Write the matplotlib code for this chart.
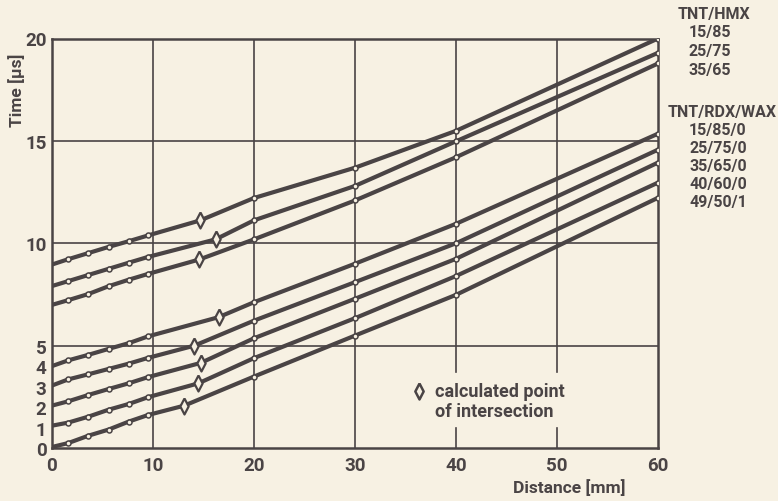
import matplotlib
matplotlib.use('Agg')
import matplotlib.pyplot as plt

# colours of the scanned page
paper = '#f7f1e3'
ink = '#4a4445'

plt.rcParams['font.family'] = ['Roboto', 'DejaVu Sans']
plt.rcParams['font.weight'] = 'bold'

# measuring points (mm) shared by all curves
x_pts = [0, 1.6, 3.6, 5.6, 7.6, 9.5, 20, 30, 40, 60]

# TNT/HMX
hmx_names = ['15/85', '25/75', '35/65']
hmx_y = [
    [8.96, 9.22, 9.52, 9.82, 10.10, 10.38, 12.21, 13.69, 15.49, 20.0],
    [7.91, 8.15, 8.45, 8.75, 9.05, 9.33, 11.12, 12.80, 14.98, 19.3],
    [6.99, 7.22, 7.52, 7.90, 8.22, 8.50, 10.19, 12.09, 14.20, 18.78],
]
hmx_dx = [14.7, 16.2, 14.6]
hmx_dy = [11.12, 10.19, 9.21]

# TNT/RDX/WAX
rdx_names = ['15/85/0', '25/75/0', '35/65/0', '40/60/0', '49/50/1']
rdx_y = [
    [4.00, 4.28, 4.55, 4.84, 5.12, 5.45, 7.12, 9.00, 10.95, 15.35],
    [3.05, 3.35, 3.60, 3.86, 4.12, 4.40, 6.22, 8.10, 10.00, 14.57],
    [2.07, 2.28, 2.59, 2.88, 3.16, 3.46, 5.36, 7.29, 9.24, 13.94],
    [1.09, 1.24, 1.53, 1.87, 2.15, 2.48, 4.39, 6.34, 8.40, 12.96],
    [0.05, 0.24, 0.60, 0.90, 1.29, 1.61, 3.49, 5.49, 7.48, 12.22],
]
rdx_dx = [16.5, 14.1, 14.75, 14.5, 13.1]
rdx_dy = [6.39, 5.00, 4.16, 3.16, 2.07]

y_ticks = [0, 1, 2, 3, 4, 5, 10, 15, 20]
x_ticks = [0, 10, 20, 30, 40, 50, 60]

# narrow diamond like the hand-drawn ones
diamond = [(0, 1), (0.52, 0), (0, -1), (-0.52, 0), (0, 1)]

fig = plt.figure(figsize=(7.78, 5.02), dpi=100, facecolor=paper)
ax = fig.add_axes([52 / 778, 1 - 449 / 502, 606 / 778, 409.5 / 502])
ax.set_facecolor(paper)
ax.set_xlim(0, 60)
ax.set_ylim(0, 20)

# grid, with the gap behind the note text
for g in [5, 10, 15]:
    ax.plot([0, 60], [g, g], color=ink, lw=1.2, zorder=1)
for g in [10, 20, 30]:
    ax.plot([g, g], [0, 20], color=ink, lw=1.2, zorder=1)
for g in [40, 50]:
    ax.plot([g, g], [3.7, 20], color=ink, lw=1.2, zorder=1)
    ax.plot([g, g], [0, 1.0], color=ink, lw=1.2, zorder=1)


def draw_curve(ys, dx, dy):
    xs = x_pts[:6] + [dx] + x_pts[6:]
    yy = ys[:6] + [dy] + ys[6:]
    ax.plot(xs, yy, color=ink, lw=3.0, solid_capstyle='round', zorder=3)
    ax.plot(x_pts[1:], ys[1:], 'o', ms=3.6, mfc=paper, mec=ink, mew=1.1, zorder=4)
    ax.plot([dx], [dy], marker=diamond, ms=11.5, mfc=paper, mec=ink, mew=1.6, zorder=4)


for i in range(len(hmx_names)):
    draw_curve(hmx_y[i], hmx_dx[i], hmx_dy[i])
for i in range(len(rdx_names)):
    draw_curve(rdx_y[i], rdx_dx[i], rdx_dy[i])

for s in ax.spines.values():
    s.set_color(ink)
    s.set_linewidth(1.8)

ax.set_xticks(x_ticks)
ax.set_yticks(y_ticks)
ax.tick_params(length=0, labelsize=13.5, labelcolor=ink, pad=6)
ax.tick_params(axis='y', pad=4)

# note inside the plot
ax.plot([36.3], [2.8], marker=diamond, ms=11.5, mfc=paper, mec=ink, mew=1.8, clip_on=False)
ax.text(37.9, 2.8, 'calculated point', fontsize=13, color=ink, va='center')
ax.text(37.9, 1.82, 'of intersection', fontsize=13, color=ink, va='center')

fig.text(17 / 778, 1 - 90 / 502, 'Time [µs]', rotation=90, fontsize=12.5, color=ink,
         ha='center', va='center')
fig.text(569 / 778, 1 - 488 / 502, 'Distance [mm]', fontsize=12.5, color=ink,
         ha='center', va='center')

# composition labels right of the plot
fig.text(714 / 778, 1 - 15 / 502, 'TNT/HMX', fontsize=11.5, color=ink, ha='center', va='center')
for i, name in enumerate(hmx_names):
    fig.text(710 / 778, 1 - (33 + 18.5 * i) / 502, name, fontsize=11.5, color=ink,
             ha='center', va='center')
fig.text(722 / 778, 1 - 112 / 502, 'TNT/RDX/WAX', fontsize=11.5, color=ink, ha='center', va='center')
for i, name in enumerate(rdx_names):
    fig.text(718 / 778, 1 - (131 + 17.8 * i) / 502, name, fontsize=11.5, color=ink,
             ha='center', va='center')

fig.savefig('out.png', dpi=100, facecolor=paper)
